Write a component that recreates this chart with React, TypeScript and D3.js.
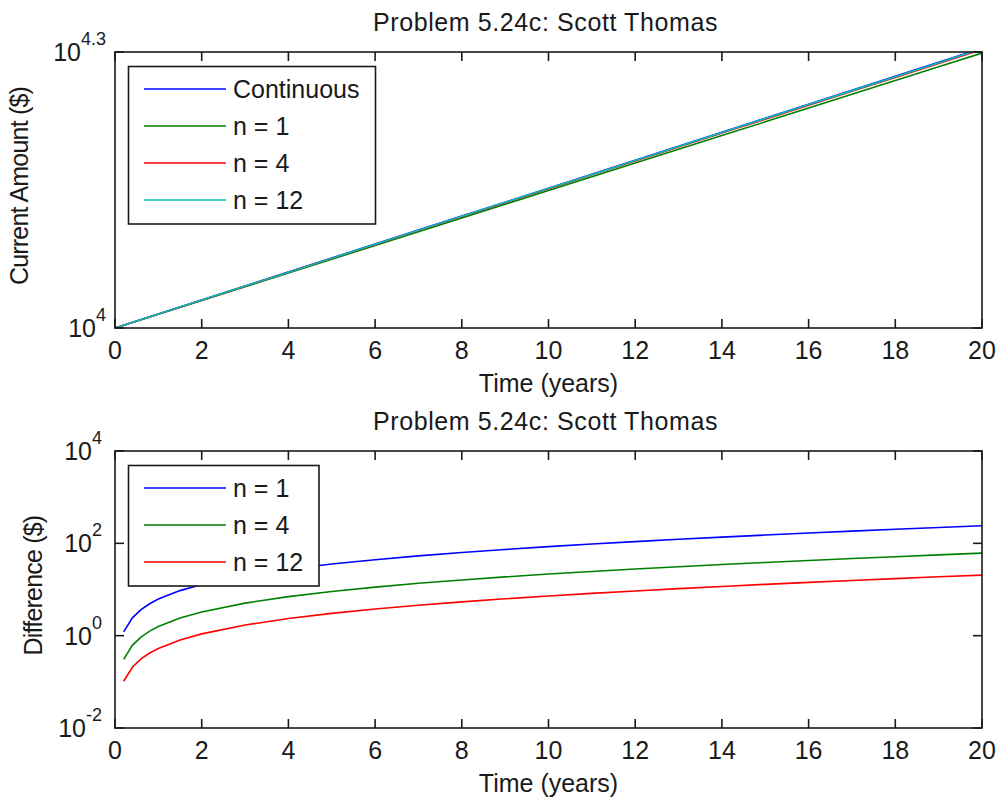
import React, { useEffect, useRef } from 'react';
import * as d3 from 'd3';

// chart text
const TITLE = 'Problem 5.24c: Scott Thomas';
const X_LABEL = 'Time (years)';

// top panel: amount after t years, $10,000 at 3.5%
const years = [0, 1, 2, 3, 4, 5, 6, 7, 8, 9, 10, 11, 12, 13, 14, 15, 16, 17, 18, 19, 20];
const continuousAmt = [10000, 10356.2, 10725.08, 11107.11, 11502.74, 11912.46, 12336.78, 12776.21, 13231.3, 13702.59, 14190.68, 14696.14, 15219.62, 15761.73, 16323.16, 16904.59, 17506.73, 18130.31, 18776.11, 19444.91, 20137.53];
const annualAmt = [10000, 10350.0, 10712.25, 11087.18, 11475.23, 11876.86, 12292.55, 12722.79, 13168.09, 13628.97, 14105.99, 14599.7, 15110.69, 15639.56, 16186.95, 16753.49, 17339.86, 17946.76, 18574.89, 19225.01, 19897.89];
const quarterlyAmt = [10000, 10354.62, 10721.82, 11102.04, 11495.74, 11903.4, 12325.52, 12762.6, 13215.2, 13683.83, 14169.09, 14671.55, 15191.84, 15730.57, 16288.41, 16866.03, 17464.14, 18083.45, 18724.73, 19388.75, 20076.31];
const monthlyAmt = [10000, 10355.67, 10723.99, 11105.41, 11500.39, 11909.42, 12333.0, 12771.65, 13225.9, 13696.3, 14183.44, 14687.9, 15210.31, 15751.28, 16311.51, 16891.66, 17492.45, 18114.6, 18758.88, 19426.08, 20117.0];

// bottom panel: continuous minus discrete compounding
const diffTimes = [0.2, 0.4, 0.6, 0.8, 1, 1.5, 2, 3, 4, 5, 6, 7, 8, 9, 10, 11, 12, 13, 14, 15, 16, 17, 18, 19, 20];
const diffAnnual = [1.21, 2.43, 3.67, 4.92, 6.2, 9.46, 12.83, 19.93, 27.51, 35.6, 44.23, 53.42, 63.21, 73.62, 84.69, 96.45, 108.93, 122.17, 136.22, 151.1, 166.87, 183.56, 201.22, 219.89, 239.64];
const diffQuarterly = [0.307, 0.618, 0.933, 1.252, 1.576, 2.406, 3.265, 5.071, 7.002, 9.064, 11.263, 13.607, 16.104, 18.761, 21.586, 24.589, 27.777, 31.161, 34.752, 38.557, 42.589, 46.859, 51.379, 56.161, 61.218];
const diffMonthly = [0.103, 0.207, 0.313, 0.42, 0.528, 0.807, 1.094, 1.7, 2.347, 3.038, 3.776, 4.562, 5.399, 6.29, 7.237, 8.244, 9.313, 10.448, 11.652, 12.929, 14.281, 15.714, 17.23, 18.834, 20.53];

// ticks
const xTicks = [0, 2, 4, 6, 8, 10, 12, 14, 16, 18, 20];
const topYExps = ['4', '4.3'];
const bottomYExps = ['-2', '0', '2', '4'];

const W = 996;
const H = 801;
const FONT = '"Liberation Sans", Arial, Helvetica, sans-serif';
const FS = 25;
const AXIS = '#1a1a1a';

const App = () => {
  const svgRef = useRef<SVGSVGElement>(null);

  useEffect(() => {
    const svg = d3.select(svgRef.current);
    svg.selectAll('*').remove();
    svg.attr('width', W).attr('height', H)
      .style('font-family', FONT)
      .style('font-size', `${FS}px`);

    svg.append('rect').attr('width', W).attr('height', H).attr('fill', '#fff');

    const left = 115;
    const right = 982;
    const x = d3.scaleLinear().domain([0, 20]).range([left, right]);

    const drawPanel = (opts: any) => {
      const { top, bottom, yDomain, yExps, series, legendW, yLabel, yLabelX, tickRight, id } = opts;
      const y = d3.scaleLog().domain(yDomain).range([bottom, top]);
      const g = svg.append('g');

      g.append('clipPath').attr('id', id)
        .append('rect')
        .attr('x', left).attr('y', top)
        .attr('width', right - left).attr('height', bottom - top);

      const line = d3.line<[number, number]>()
        .x(d => x(d[0]))
        .y(d => y(d[1]));

      series.forEach((s: any) => {
        const pts = s.t.map((t: number, i: number) => [t, s.v[i]] as [number, number]);
        g.append('path')
          .datum(pts)
          .attr('clip-path', `url(#${id})`)
          .attr('fill', 'none')
          .attr('stroke', s.color)
          .attr('stroke-width', 1.6)
          .attr('d', line);
      });

      // box
      g.append('rect')
        .attr('x', left).attr('y', top)
        .attr('width', right - left).attr('height', bottom - top)
        .attr('fill', 'none').attr('stroke', AXIS).attr('stroke-width', 1.6);

      // x ticks, bottom and top
      xTicks.forEach(t => {
        g.append('line').attr('x1', x(t)).attr('x2', x(t)).attr('y1', bottom).attr('y2', bottom - 9)
          .attr('stroke', AXIS).attr('stroke-width', 1.6);
        g.append('line').attr('x1', x(t)).attr('x2', x(t)).attr('y1', top).attr('y2', top + 9)
          .attr('stroke', AXIS).attr('stroke-width', 1.6);
        g.append('text')
          .attr('x', x(t)).attr('y', bottom + 31)
          .attr('text-anchor', 'middle').attr('fill', AXIS)
          .text(t);
      });

      // y ticks
      yExps.forEach((e: string) => {
        const yy = y(Math.pow(10, +e));
        g.append('line').attr('x1', left).attr('x2', left + 9).attr('y1', yy).attr('y2', yy)
          .attr('stroke', AXIS).attr('stroke-width', 1.6);
        g.append('line').attr('x1', right).attr('x2', right - 9).attr('y1', yy).attr('y2', yy)
          .attr('stroke', AXIS).attr('stroke-width', 1.6);
        const lbl = g.append('text')
          .attr('x', tickRight).attr('y', yy + 9)
          .attr('text-anchor', 'end').attr('fill', AXIS);
        lbl.append('tspan').text('10');
        lbl.append('tspan').attr('dy', -16).style('font-size', '18px').text(e);
      });

      // labels
      g.append('text')
        .attr('x', (left + right) / 2 - 3).attr('y', top - 21)
        .attr('text-anchor', 'middle').attr('fill', AXIS)
        .style('letter-spacing', '0.6px')
        .text(TITLE);
      g.append('text')
        .attr('x', (left + right) / 2).attr('y', bottom + 64)
        .attr('text-anchor', 'middle').attr('fill', AXIS)
        .text(X_LABEL);
      g.append('text')
        .attr('transform', `translate(${yLabelX},${(top + bottom) / 2 - 4}) rotate(-90)`)
        .attr('text-anchor', 'middle').attr('fill', AXIS)
        .style('letter-spacing', '-0.8px')
        .text(yLabel);

      // legend
      const lx = 128.5;
      const ly = top + 14.5;
      const rowGap = 37;
      const lh = 22.5 + (series.length - 1) * rowGap + 24;
      const leg = g.append('g');
      leg.append('rect')
        .attr('x', lx).attr('y', ly).attr('width', legendW).attr('height', lh)
        .attr('fill', '#fff').attr('stroke', AXIS).attr('stroke-width', 1.6);
      series.forEach((s: any, i: number) => {
        const ry = ly + 22.5 + i * rowGap;
        leg.append('line')
          .attr('x1', 144).attr('x2', 226).attr('y1', ry).attr('y2', ry)
          .attr('stroke', s.color).attr('stroke-width', 1.6);
        leg.append('text')
          .attr('x', 233).attr('y', ry + 9).attr('fill', AXIS)
          .text(s.name);
      });
    };

    drawPanel({
      id: 'clip-top',
      top: 52,
      bottom: 328,
      yDomain: [1e4, Math.pow(10, 4.3)],
      yExps: topYExps,
      legendW: 247,
      yLabel: 'Current Amount ($)',
      yLabelX: 28,
      tickRight: 106,
      series: [
        { name: 'Continuous', color: '#0000ff', t: years, v: continuousAmt },
        { name: 'n = 1', color: '#008000', t: years, v: annualAmt },
        { name: 'n = 4', color: '#ff0000', t: years, v: quarterlyAmt },
        { name: 'n = 12', color: '#00bfbf', t: years, v: monthlyAmt }
      ]
    });

    drawPanel({
      id: 'clip-bottom',
      top: 451,
      bottom: 728,
      yDomain: [1e-2, 1e4],
      yExps: bottomYExps,
      legendW: 190.5,
      yLabel: 'Difference ($)',
      yLabelX: 42,
      tickRight: 102,
      series: [
        { name: 'n = 1', color: '#0000ff', t: diffTimes, v: diffAnnual },
        { name: 'n = 4', color: '#008000', t: diffTimes, v: diffQuarterly },
        { name: 'n = 12', color: '#ff0000', t: diffTimes, v: diffMonthly }
      ]
    });
  }, []);

  return (
    <div>
      <svg ref={svgRef} style={{ position: 'absolute', left: 0, top: 0, display: 'block' }}></svg>
    </div>
  );
};

export default App;
